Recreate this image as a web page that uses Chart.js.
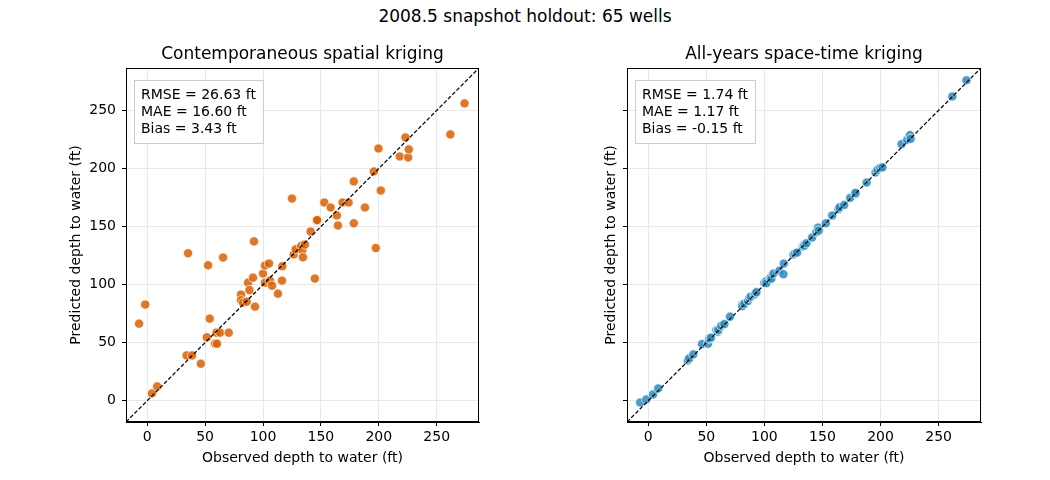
<!DOCTYPE html>
<html>
<head>
<meta charset="utf-8">
<script src="https://cdn.jsdelivr.net/npm/chart.js@4.4.1/dist/chart.umd.min.js"></script>
<style>
  html, body { margin: 0; padding: 0; background: #fff; }
  #wrap { position: relative; width: 1050px; height: 480px; font-family: 'DejaVu Sans', sans-serif; }
  #suptitle { position: absolute; top: 6px; left: 0; width: 1050px; text-align: center;
              font-size: 17px; line-height: 21px; color: #000; }
  canvas { position: absolute; top: 0; }
</style>
</head>
<body>
<div id="wrap">
  <div id="suptitle">2008.5 snapshot holdout: 65 wells</div>
  <canvas id="leftChart" width="525" height="480" style="left:0"></canvas>
  <canvas id="rightChart" width="525" height="480" style="left:525px"></canvas>
</div>
<script>
/* ── DATA ─────────────────────────────────────────────────────── */
const OBSERVED = [
  -7.0, -1.7, 4.1, 8.6, 34.0, 35.3, 38.8, 46.3, 51.5, 52.6,
  54.0, 58.6, 59.8, 60.3, 62.9, 65.5, 70.4, 81.0, 81.0, 82.8,
  85.9, 87.1, 88.3, 91.4, 92.2, 93.1, 100.0, 101.7, 101.7, 105.2,
  106.0, 107.8, 112.9, 116.4, 116.7, 125.0, 126.5, 128.2, 133.0, 134.0,
  134.5, 136.2, 141.1, 144.8, 146.3, 146.8, 152.9, 158.4, 163.8, 164.7,
  168.7, 173.9, 178.4, 178.4, 188.0, 195.7, 197.4, 199.7, 201.7, 218.1,
  223.0, 225.3, 225.9, 261.8, 274.0
];
const PRED_SPATIAL = [
  66.4, 82.8, 6.3, 12.3, 39.0, 127.0, 39.0, 31.9, 54.6, 116.6,
  70.7, 49.1, 58.6, 49.1, 58.6, 123.3, 58.6, 91.4, 86.5, 84.5,
  85.3, 101.7, 95.3, 106.0, 137.2, 81.0, 109.5, 116.4, 101.7, 118.1,
  103.4, 99.1, 92.2, 103.4, 115.8, 174.1, 125.9, 130.4, 133.3, 129.6,
  123.5, 134.5, 145.7, 105.2, 155.2, 155.6, 170.7, 166.4, 159.5, 150.9,
  170.7, 170.7, 188.8, 152.8, 166.4, 197.4, 131.5, 217.2, 181.0, 210.3,
  226.7, 209.5, 216.4, 229.3, 256.0
];
const PRED_SPACETIME = [
  -1.5, 1.1, 5.4, 10.6, 34.7, 36.5, 39.9, 48.8, 49.1, 53.5,
  54.3, 60.6, 59.5, 61.0, 64.5, 66.0, 72.4, 82.8, 81.5, 83.5,
  85.9, 88.5, 89.7, 91.2, 92.2, 93.5, 101.7, 103.1, 101.2, 106.0,
  105.0, 109.5, 112.0, 108.9, 118.1, 125.9, 126.8, 127.6, 132.8, 134.0,
  133.5, 135.6, 140.5, 145.3, 149.1, 146.5, 152.8, 159.5, 164.9, 166.5,
  168.6, 174.7, 178.1, 179.0, 187.9, 196.6, 198.8, 200.5, 201.0, 221.0,
  224.7, 228.7, 225.5, 262.0, 275.9
];
const STATS_SPATIAL   = ['RMSE = 26.63 ft', 'MAE = 16.60 ft', 'Bias = 3.43 ft'];
const STATS_SPACETIME = ['RMSE = 1.74 ft', 'MAE = 1.17 ft', 'Bias = -0.15 ft'];
const AXIS_TICKS = [0, 50, 100, 150, 200, 250];
const AXIS_MIN = -18.3;
const AXIS_MAX = 286.5;

const FONT = "'DejaVu Sans', sans-serif";

/* ── PLUGINS: frame + stats box ───────────────────────────────── */
const framePlugin = {
  id: 'frame',
  afterDatasetsDraw(chart) {
    const { ctx, chartArea: a } = chart;
    ctx.save();
    ctx.strokeStyle = '#000';
    ctx.lineWidth = 1;
    ctx.strokeRect(Math.round(a.left) + 0.5, Math.round(a.top) + 0.5,
                   Math.round(a.right - a.left) - 1, Math.round(a.bottom - a.top) - 1);
    ctx.restore();
  }
};

const statsPlugin = {
  id: 'statsBox',
  afterDatasetsDraw(chart, args, opts) {
    const lines = opts.lines || [];
    const { ctx, chartArea: a } = chart;
    ctx.save();
    ctx.font = `14px ${FONT}`;
    const w = Math.max(...lines.map(l => ctx.measureText(l).width)) + 14;
    const lh = 17;
    const h = lines.length * lh + 12;
    const x = a.left + 8, y = a.top + 12;
    ctx.fillStyle = 'rgba(255,255,255,0.85)';
    ctx.strokeStyle = '#cccccc';
    ctx.lineWidth = 1;
    ctx.fillRect(x, y, w, h);
    ctx.strokeRect(x + 0.5, y + 0.5, w, h);
    ctx.fillStyle = '#000';
    ctx.textBaseline = 'alphabetic';
    lines.forEach((l, i) => ctx.fillText(l, x + 7, y + 19 + i * lh));
    ctx.restore();
  }
};

/* ── CHART BUILDER ────────────────────────────────────────────── */
function makePanel(canvasId, title, preds, color, stats, yAxisWidth, rightPad, showYLabels, yTitlePad) {
  const pts = OBSERVED.map((x, i) => ({ x, y: preds[i] }));
  const keepTicks = scale => { scale.ticks = AXIS_TICKS.map(v => ({ value: v })); };

  return new Chart(document.getElementById(canvasId), {
    type: 'scatter',
    data: {
      datasets: [
        {
          type: 'line',
          data: [{ x: AXIS_MIN, y: AXIS_MIN }, { x: AXIS_MAX, y: AXIS_MAX }],
          borderColor: '#000',
          borderWidth: 1.2,
          borderDash: [4, 2],
          pointRadius: 0,
          fill: false,
          order: 0,
        },
        {
          data: pts,
          backgroundColor: color,
          borderColor: '#ffffff',
          borderWidth: 0.7,
          pointRadius: 4.6,
          order: 1,
        }
      ]
    },
    options: {
      responsive: false,
      animation: false,
      devicePixelRatio: 1,
      layout: { padding: { left: 0, right: rightPad, top: 0, bottom: 0 } },
      plugins: {
        legend: { display: false },
        tooltip: { enabled: false },
        title: {
          display: true,
          fullSize: false,
          text: title,
          color: '#000',
          font: { family: FONT, size: 17, weight: 'normal' },
          padding: { top: 44, bottom: 3.6 },
        },
        statsBox: { lines: stats },
      },
      scales: {
        x: {
          type: 'linear',
          min: AXIS_MIN, max: AXIS_MAX,
          afterBuildTicks: keepTicks,
          afterFit: s => { s.height = 58; },
          grid: { color: '#e8e8e8', tickColor: '#000', tickLength: 4, drawTicks: true },
          border: { display: true, color: '#000' },
          ticks: { color: '#000', padding: 3, font: { family: FONT, size: 14 }, maxRotation: 0 },
          title: {
            display: true,
            text: 'Observed depth to water (ft)',
            color: '#000',
            font: { family: FONT, size: 14 },
            padding: { top: 0, bottom: 13.5 },
          }
        },
        y: {
          type: 'linear',
          min: AXIS_MIN, max: AXIS_MAX,
          afterBuildTicks: keepTicks,
          afterFit: s => { s.width = yAxisWidth; },
          grid: { color: '#e8e8e8', tickColor: '#000', tickLength: 4, drawTicks: true },
          border: { display: true, color: '#000' },
          ticks: { display: showYLabels, color: '#000', padding: 6, font: { family: FONT, size: 14 } },
          title: {
            display: true,
            text: 'Predicted depth to water (ft)',
            color: '#000',
            font: { family: FONT, size: 14 },
            padding: { top: yTitlePad, bottom: 0 },
          }
        }
      }
    },
    plugins: [framePlugin, statsPlugin]
  });
}

makePanel('leftChart', 'Contemporaneous spatial kriging', PRED_SPATIAL,
          'rgba(217,95,2,0.85)', STATS_SPATIAL, 126, 46, true, 68);
makePanel('rightChart', 'All-years space-time kriging', PRED_SPACETIME,
          'rgba(43,140,190,0.85)', STATS_SPACETIME, 102, 69, false, 77.6);
</script>
</body>
</html>
